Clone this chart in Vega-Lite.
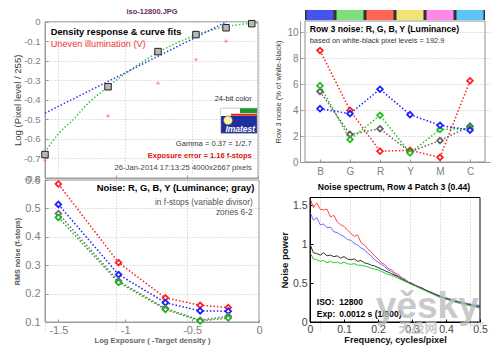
{
"$schema":"https://vega.github.io/schema/vega-lite/v6.json",
"width":500,"height":353,"autosize":{"type":"none"},"padding":0,"background":"white",
"config":{"view":{"stroke":null},"font":"Liberation Sans",
"axis":{"labelFont":"Liberation Sans","titleFont":"Liberation Sans","labelFontSize":10,"labelColor":"#808080","titleColor":"#404040","titleFontWeight":"normal","domainColor":"#999999","tickColor":"#999999","tickSize":-3,"labelPadding":6,"gridColor":"#c4c4c4","gridDash":[1,2],"labelFlush":false,"labelOverlap":false},
"text":{"font":"Liberation Sans"}},
"datasets":{
"one":[{}],
"tl_sq":[{"x":-1.5,"y":-0.68},{"x":-1.056,"y":-0.333},{"x":-0.704,"y":-0.153},{"x":-0.437,"y":-0.066},{"x":-0.225,"y":-0.031},{"x":-0.044,"y":-0.01}],
"tl_red":[{"x":-1.5,"y":-0.71},{"x":-1.056,"y":-0.483},{"x":-0.704,"y":-0.315},{"x":-0.437,"y":-0.194},{"x":-0.225,"y":-0.1}],
"tl_blue":[{"x":-1.5,"y":-0.468},{"x":-0.22,"y":0}],
"tl_green":[{"x":-1.5,"y":-0.668},{"x":-1.4,"y":-0.57},{"x":-1.3,"y":-0.5},{"x":-1.2,"y":-0.42},{"x":-1.1,"y":-0.358},{"x":-1.0,"y":-0.3},{"x":-0.9,"y":-0.248},{"x":-0.8,"y":-0.2},{"x":-0.7,"y":-0.155},{"x":-0.6,"y":-0.118},{"x":-0.5,"y":-0.086},{"x":-0.4,"y":-0.058},{"x":-0.3,"y":-0.037},{"x":-0.2,"y":-0.022},{"x":-0.1,"y":-0.012},{"x":0,"y":-0.006}],
"tr_cells":[{"x":1,"k":"B"},{"x":2,"k":"G"},{"x":3,"k":"R"},{"x":4,"k":"Y"},{"x":5,"k":"M"},{"x":6,"k":"C"}],
"tr":[{"x":1,"y":8.58,"s":"R"},{"x":2,"y":3.98,"s":"R"},{"x":3,"y":0.83,"s":"R"},{"x":4,"y":0.9,"s":"R"},{"x":5,"y":0.36,"s":"R"},{"x":6,"y":6.25,"s":"R"},
{"x":1,"y":5.43,"s":"Y"},{"x":2,"y":2.12,"s":"Y"},{"x":3,"y":2.56,"s":"Y"},{"x":4,"y":0.78,"s":"Y"},{"x":5,"y":1.65,"s":"Y"},{"x":6,"y":2.76,"s":"Y"},
{"x":1,"y":5.87,"s":"G"},{"x":2,"y":1.73,"s":"G"},{"x":3,"y":3.59,"s":"G"},{"x":4,"y":0.7,"s":"G"},{"x":5,"y":2.5,"s":"G"},{"x":6,"y":2.58,"s":"G"},
{"x":1,"y":4.1,"s":"B"},{"x":2,"y":3.72,"s":"B"},{"x":3,"y":5.6,"s":"B"},{"x":4,"y":3.64,"s":"B"},{"x":5,"y":2.82,"s":"B"},{"x":6,"y":2.45,"s":"B"}],
"bl":[{"x":-1.5,"y":0.586,"s":"R"},{"x":-1.05,"y":0.309,"s":"R"},{"x":-0.7,"y":0.185,"s":"R"},{"x":-0.44,"y":0.159,"s":"R"},{"x":-0.23,"y":0.151,"s":"R"},
{"x":-1.5,"y":0.514,"s":"B"},{"x":-1.05,"y":0.267,"s":"B"},{"x":-0.7,"y":0.168,"s":"B"},{"x":-0.44,"y":0.139,"s":"B"},{"x":-0.23,"y":0.138,"s":"B"},
{"x":-1.5,"y":0.482,"s":"Y"},{"x":-1.05,"y":0.244,"s":"Y"},{"x":-0.7,"y":0.148,"s":"Y"},{"x":-0.44,"y":0.106,"s":"Y"},{"x":-0.23,"y":0.12,"s":"Y"},
{"x":-1.5,"y":0.468,"s":"G"},{"x":-1.05,"y":0.239,"s":"G"},{"x":-0.7,"y":0.144,"s":"G"},{"x":-0.44,"y":0.104,"s":"G"},{"x":-0.23,"y":0.114,"s":"G"}],
"br":[
{"x":0,"y":1.59,"s":"R"},{"x":0.01,"y":1.47,"s":"R"},{"x":0.02,"y":1.53,"s":"R"},{"x":0.03,"y":1.45,"s":"R"},{"x":0.04,"y":1.44,"s":"R"},{"x":0.05,"y":1.45,"s":"R"},{"x":0.06,"y":1.35,"s":"R"},{"x":0.07,"y":1.37,"s":"R"},{"x":0.08,"y":1.29,"s":"R"},{"x":0.09,"y":1.25,"s":"R"},{"x":0.1,"y":1.23,"s":"R"},{"x":0.11,"y":1.18,"s":"R"},{"x":0.12,"y":1.14,"s":"R"},{"x":0.13,"y":1.1,"s":"R"},{"x":0.14,"y":1.12,"s":"R"},{"x":0.15,"y":1.02,"s":"R"},{"x":0.16,"y":0.99,"s":"R"},{"x":0.17,"y":0.94,"s":"R"},{"x":0.18,"y":0.9,"s":"R"},{"x":0.19,"y":0.85,"s":"R"},{"x":0.2,"y":0.81,"s":"R"},{"x":0.21,"y":0.76,"s":"R"},{"x":0.22,"y":0.74,"s":"R"},{"x":0.23,"y":0.69,"s":"R"},{"x":0.24,"y":0.67,"s":"R"},{"x":0.25,"y":0.63,"s":"R"},{"x":0.26,"y":0.61,"s":"R"},{"x":0.27,"y":0.57,"s":"R"},{"x":0.28,"y":0.55,"s":"R"},{"x":0.29,"y":0.51,"s":"R"},{"x":0.3,"y":0.5,"s":"R"},{"x":0.31,"y":0.47,"s":"R"},{"x":0.32,"y":0.45,"s":"R"},{"x":0.33,"y":0.44,"s":"R"},{"x":0.34,"y":0.41,"s":"R"},{"x":0.35,"y":0.39,"s":"R"},{"x":0.36,"y":0.38,"s":"R"},{"x":0.37,"y":0.35,"s":"R"},{"x":0.38,"y":0.34,"s":"R"},{"x":0.39,"y":0.32,"s":"R"},{"x":0.4,"y":0.31,"s":"R"},{"x":0.41,"y":0.29,"s":"R"},{"x":0.42,"y":0.28,"s":"R"},{"x":0.43,"y":0.27,"s":"R"},{"x":0.44,"y":0.26,"s":"R"},{"x":0.45,"y":0.24,"s":"R"},{"x":0.46,"y":0.24,"s":"R"},{"x":0.47,"y":0.23,"s":"R"},{"x":0.48,"y":0.22,"s":"R"},{"x":0.49,"y":0.21,"s":"R"},{"x":0.5,"y":0.21,"s":"R"},
{"x":0,"y":1.41,"s":"B"},{"x":0.01,"y":1.31,"s":"B"},{"x":0.02,"y":1.34,"s":"B"},{"x":0.03,"y":1.25,"s":"B"},{"x":0.04,"y":1.26,"s":"B"},{"x":0.05,"y":1.21,"s":"B"},{"x":0.06,"y":1.22,"s":"B"},{"x":0.07,"y":1.16,"s":"B"},{"x":0.08,"y":1.15,"s":"B"},{"x":0.09,"y":1.12,"s":"B"},{"x":0.1,"y":1.1,"s":"B"},{"x":0.11,"y":1.06,"s":"B"},{"x":0.12,"y":1.05,"s":"B"},{"x":0.13,"y":1.01,"s":"B"},{"x":0.14,"y":0.99,"s":"B"},{"x":0.15,"y":0.95,"s":"B"},{"x":0.16,"y":0.93,"s":"B"},{"x":0.17,"y":0.88,"s":"B"},{"x":0.18,"y":0.85,"s":"B"},{"x":0.19,"y":0.8,"s":"B"},{"x":0.2,"y":0.77,"s":"B"},{"x":0.21,"y":0.74,"s":"B"},{"x":0.22,"y":0.71,"s":"B"},{"x":0.23,"y":0.67,"s":"B"},{"x":0.24,"y":0.65,"s":"B"},{"x":0.25,"y":0.61,"s":"B"},{"x":0.26,"y":0.59,"s":"B"},{"x":0.27,"y":0.56,"s":"B"},{"x":0.28,"y":0.54,"s":"B"},{"x":0.29,"y":0.51,"s":"B"},{"x":0.3,"y":0.49,"s":"B"},{"x":0.31,"y":0.47,"s":"B"},{"x":0.32,"y":0.45,"s":"B"},{"x":0.33,"y":0.43,"s":"B"},{"x":0.34,"y":0.41,"s":"B"},{"x":0.35,"y":0.39,"s":"B"},{"x":0.36,"y":0.37,"s":"B"},{"x":0.37,"y":0.36,"s":"B"},{"x":0.38,"y":0.34,"s":"B"},{"x":0.39,"y":0.32,"s":"B"},{"x":0.4,"y":0.31,"s":"B"},{"x":0.41,"y":0.3,"s":"B"},{"x":0.42,"y":0.28,"s":"B"},{"x":0.43,"y":0.27,"s":"B"},{"x":0.44,"y":0.26,"s":"B"},{"x":0.45,"y":0.25,"s":"B"},{"x":0.46,"y":0.24,"s":"B"},{"x":0.47,"y":0.23,"s":"B"},{"x":0.48,"y":0.22,"s":"B"},{"x":0.49,"y":0.22,"s":"B"},{"x":0.5,"y":0.21,"s":"B"},
{"x":0,"y":1.0,"s":"K"},{"x":0.01,"y":0.89,"s":"K"},{"x":0.02,"y":0.88,"s":"K"},{"x":0.03,"y":0.86,"s":"K"},{"x":0.04,"y":0.89,"s":"K"},{"x":0.05,"y":0.85,"s":"K"},{"x":0.06,"y":0.86,"s":"K"},{"x":0.07,"y":0.84,"s":"K"},{"x":0.08,"y":0.85,"s":"K"},{"x":0.09,"y":0.82,"s":"K"},{"x":0.1,"y":0.84,"s":"K"},{"x":0.11,"y":0.81,"s":"K"},{"x":0.12,"y":0.8,"s":"K"},{"x":0.13,"y":0.81,"s":"K"},{"x":0.14,"y":0.78,"s":"K"},{"x":0.15,"y":0.79,"s":"K"},{"x":0.16,"y":0.76,"s":"K"},{"x":0.17,"y":0.75,"s":"K"},{"x":0.18,"y":0.73,"s":"K"},{"x":0.19,"y":0.72,"s":"K"},{"x":0.2,"y":0.7,"s":"K"},{"x":0.21,"y":0.68,"s":"K"},{"x":0.22,"y":0.66,"s":"K"},{"x":0.23,"y":0.64,"s":"K"},{"x":0.24,"y":0.62,"s":"K"},{"x":0.25,"y":0.6,"s":"K"},{"x":0.26,"y":0.58,"s":"K"},{"x":0.27,"y":0.55,"s":"K"},{"x":0.28,"y":0.53,"s":"K"},{"x":0.29,"y":0.51,"s":"K"},{"x":0.3,"y":0.49,"s":"K"},{"x":0.31,"y":0.47,"s":"K"},{"x":0.32,"y":0.45,"s":"K"},{"x":0.33,"y":0.43,"s":"K"},{"x":0.34,"y":0.41,"s":"K"},{"x":0.35,"y":0.39,"s":"K"},{"x":0.36,"y":0.37,"s":"K"},{"x":0.37,"y":0.35,"s":"K"},{"x":0.38,"y":0.33,"s":"K"},{"x":0.39,"y":0.32,"s":"K"},{"x":0.4,"y":0.3,"s":"K"},{"x":0.41,"y":0.29,"s":"K"},{"x":0.42,"y":0.27,"s":"K"},{"x":0.43,"y":0.26,"s":"K"},{"x":0.44,"y":0.25,"s":"K"},{"x":0.45,"y":0.24,"s":"K"},{"x":0.46,"y":0.23,"s":"K"},{"x":0.47,"y":0.22,"s":"K"},{"x":0.48,"y":0.21,"s":"K"},{"x":0.49,"y":0.2,"s":"K"},{"x":0.5,"y":0.19,"s":"K"},
{"x":0,"y":0.89,"s":"G"},{"x":0.01,"y":0.81,"s":"G"},{"x":0.02,"y":0.8,"s":"G"},{"x":0.03,"y":0.78,"s":"G"},{"x":0.04,"y":0.79,"s":"G"},{"x":0.05,"y":0.76,"s":"G"},{"x":0.06,"y":0.78,"s":"G"},{"x":0.07,"y":0.76,"s":"G"},{"x":0.08,"y":0.77,"s":"G"},{"x":0.09,"y":0.75,"s":"G"},{"x":0.1,"y":0.77,"s":"G"},{"x":0.11,"y":0.75,"s":"G"},{"x":0.12,"y":0.74,"s":"G"},{"x":0.13,"y":0.75,"s":"G"},{"x":0.14,"y":0.73,"s":"G"},{"x":0.15,"y":0.73,"s":"G"},{"x":0.16,"y":0.72,"s":"G"},{"x":0.17,"y":0.71,"s":"G"},{"x":0.18,"y":0.69,"s":"G"},{"x":0.19,"y":0.68,"s":"G"},{"x":0.2,"y":0.67,"s":"G"},{"x":0.21,"y":0.65,"s":"G"},{"x":0.22,"y":0.63,"s":"G"},{"x":0.23,"y":0.61,"s":"G"},{"x":0.24,"y":0.6,"s":"G"},{"x":0.25,"y":0.58,"s":"G"},{"x":0.26,"y":0.56,"s":"G"},{"x":0.27,"y":0.54,"s":"G"},{"x":0.28,"y":0.52,"s":"G"},{"x":0.29,"y":0.5,"s":"G"},{"x":0.3,"y":0.48,"s":"G"},{"x":0.31,"y":0.46,"s":"G"},{"x":0.32,"y":0.44,"s":"G"},{"x":0.33,"y":0.42,"s":"G"},{"x":0.34,"y":0.4,"s":"G"},{"x":0.35,"y":0.38,"s":"G"},{"x":0.36,"y":0.36,"s":"G"},{"x":0.37,"y":0.34,"s":"G"},{"x":0.38,"y":0.32,"s":"G"},{"x":0.39,"y":0.31,"s":"G"},{"x":0.4,"y":0.29,"s":"G"},{"x":0.41,"y":0.28,"s":"G"},{"x":0.42,"y":0.27,"s":"G"},{"x":0.43,"y":0.25,"s":"G"},{"x":0.44,"y":0.24,"s":"G"},{"x":0.45,"y":0.23,"s":"G"},{"x":0.46,"y":0.22,"s":"G"},{"x":0.47,"y":0.21,"s":"G"},{"x":0.48,"y":0.2,"s":"G"},{"x":0.49,"y":0.19,"s":"G"},{"x":0.5,"y":0.18,"s":"G"}]
},
"layer":[
{"layer":[
{"data":{"name":"tl_green"},"mark":{"type":"line","stroke":"#28d028","strokeWidth":1.5,"strokeDash":[1.5,2],"interpolate":"monotone"},"encoding":{
"x":{"field":"x","type":"quantitative","scale":{"domain":[-1.5,0],"range":[45,258],"nice":false,"zero":false},"axis":{"orient":"bottom","offset":-175,"values":[-1.5,-1,-0.5,0],"labels":false,"title":null,"grid":true}},
"y":{"field":"y","type":"quantitative","scale":{"domain":[-0.8,0],"range":[178,21.7],"nice":false,"zero":false},"axis":{"orient":"left","offset":-45,"values":[0,-0.1,-0.2,-0.3,-0.4,-0.5,-0.6,-0.7,-0.8],"format":"~r","labelExpr":"replace(datum.label,'\u2212','-')","labelFontSize":9.5,"labelPadding":8,"title":"Log (Pixel level / 255)","titleFontSize":9.5,"titlePadding":1,"grid":true}}}},
{"data":{"name":"one"},"mark":{"type":"rect","fill":"white","fillOpacity":0,"stroke":"#a0a0a0","strokeWidth":1},"encoding":{"x":{"datum":-1.5,"type":"quantitative"},"x2":{"datum":0},"y":{"datum":-0.8,"type":"quantitative"},"y2":{"datum":0}}},
{"data":{"name":"tl_blue"},"mark":{"type":"line","stroke":"#3535ff","strokeWidth":1.5,"strokeDash":[1.5,2]},"encoding":{"x":{"field":"x","type":"quantitative"},"y":{"field":"y","type":"quantitative"}}},
{"data":{"name":"tl_red"},"mark":{"type":"point","shape":"cross","size":12,"filled":true,"color":"#ff7070"},"encoding":{"x":{"field":"x","type":"quantitative"},"y":{"field":"y","type":"quantitative"}}},
{"data":{"name":"tl_sq"},"mark":{"type":"point","shape":"square","size":42,"filled":true,"fill":"#b8b8b8","stroke":"#222222","strokeWidth":1,"opacity":1},"encoding":{"x":{"field":"x","type":"quantitative"},"y":{"field":"y","type":"quantitative"}}},
{"data":{"name":"one"},"mark":{"type":"text","text":"iso-12800.JPG","align":"center","baseline":"middle","fontSize":7.5,"fontWeight":"bold","color":"#6a2a6a"},"encoding":{"x":{"datum":-0.746,"type":"quantitative"},"y":{"datum":0.05,"type":"quantitative"}}},
{"data":{"name":"one"},"mark":{"type":"text","text":"Density response & curve fits","align":"left","baseline":"middle","fontSize":9.3,"fontWeight":"bold","color":"#000000"},"encoding":{"x":{"datum":-1.46,"type":"quantitative"},"y":{"datum":-0.053,"type":"quantitative"}}},
{"data":{"name":"one"},"mark":{"type":"text","text":"Uneven illumination (V)","align":"left","baseline":"middle","fontSize":9.2,"color":"#ee3333"},"encoding":{"x":{"datum":-1.46,"type":"quantitative"},"y":{"datum":-0.114,"type":"quantitative"}}},
{"data":{"name":"one"},"mark":{"type":"text","text":"24-bit color","align":"right","baseline":"middle","fontSize":7.5,"color":"#333333"},"encoding":{"x":{"datum":-0.044,"type":"quantitative"},"y":{"datum":-0.396,"type":"quantitative"}}},
{"data":{"name":"one"},"mark":{"type":"rect","fill":"#1f2f9f","stroke":"#888888","strokeWidth":0.5},"encoding":{"x":{"datum":-0.261,"type":"quantitative"},"x2":{"datum":-0.007},"y":{"datum":-0.571,"type":"quantitative"},"y2":{"datum":-0.443}}},
{"data":{"name":"one"},"mark":{"type":"rect","fill":"#ffffff"},"encoding":{"x":{"datum":-0.261,"type":"quantitative"},"x2":{"datum":-0.007},"y":{"datum":-0.483,"type":"quantitative"},"y2":{"datum":-0.443}}},
{"data":{"name":"one"},"mark":{"type":"rect","fill":"#1a9a2a"},"encoding":{"x":{"datum":-0.127,"type":"quantitative"},"x2":{"datum":-0.007},"y":{"datum":-0.468,"type":"quantitative"},"y2":{"datum":-0.443}}},
{"data":{"name":"one"},"mark":{"type":"rect","fill":"#dd2222"},"encoding":{"x":{"datum":-0.19,"type":"quantitative"},"x2":{"datum":-0.007},"y":{"datum":-0.481,"type":"quantitative"},"y2":{"datum":-0.471}}},
{"data":{"name":"one"},"mark":{"type":"point","shape":"circle","size":80,"filled":true,"fill":"#fff2a0","stroke":"#555555","strokeWidth":0.5,"opacity":1},"encoding":{"x":{"datum":-0.211,"type":"quantitative"},"y":{"datum":-0.505,"type":"quantitative"}}},
{"data":{"name":"one"},"mark":{"type":"text","text":"Imatest","align":"center","baseline":"middle","fontSize":8.5,"fontWeight":"bold","fontStyle":"italic","color":"#ffffff"},"encoding":{"x":{"datum":-0.125,"type":"quantitative"},"y":{"datum":-0.547,"type":"quantitative"}}},
{"data":{"name":"one"},"mark":{"type":"text","text":"Gamma = 0.37 = 1/2.7","align":"right","baseline":"middle","fontSize":7.6,"color":"#333333"},"encoding":{"x":{"datum":-0.044,"type":"quantitative"},"y":{"datum":-0.627,"type":"quantitative"}}},
{"data":{"name":"one"},"mark":{"type":"text","text":"Exposure error = 1.16 f-stops","align":"right","baseline":"middle","fontSize":7.5,"fontWeight":"bold","color":"#dd1111"},"encoding":{"x":{"datum":-0.044,"type":"quantitative"},"y":{"datum":-0.687,"type":"quantitative"}}},
{"data":{"name":"one"},"mark":{"type":"text","text":"26-Jan-2014 17:13:25   4000x2667 pixels","align":"right","baseline":"middle","fontSize":7.7,"color":"#444444"},"encoding":{"x":{"datum":-0.044,"type":"quantitative"},"y":{"datum":-0.749,"type":"quantitative"}}}
]},
{"layer":[
{"data":{"name":"tr"},"mark":{"type":"line","strokeWidth":1.5,"strokeDash":[1.5,2]},"encoding":{
"x":{"field":"x","type":"quantitative","scale":{"domain":[0.5,6.5],"range":[300,490],"nice":false,"zero":false},"axis":{"orient":"bottom","offset":-191,"values":[1,2,3,4,5,6],"labelExpr":"['','B','G','R','Y','M','C'][datum.value]","title":null,"grid":true,"labelFontSize":10,"labelPadding":7}},
"y":{"field":"y","type":"quantitative","scale":{"domain":[0,10.85],"range":[162,21],"nice":false,"zero":false},"axis":{"orient":"left","offset":-300,"values":[0,2,4,6,8,10],"format":"~r","title":"Row 3 noise (% of white-black)","titleFontSize":7.5,"titlePadding":4,"grid":true,"labelFontSize":10,"labelPadding":5}},
"stroke":{"field":"s","type":"nominal","scale":{"domain":["R","G","B","Y"],"range":["#ff2020","#20c020","#2020ff","#606060"]},"legend":null}}},
{"data":{"name":"one"},"mark":{"type":"rect","fill":"white","fillOpacity":0,"stroke":"#909090","strokeWidth":1},"encoding":{"x":{"datum":0.5,"type":"quantitative"},"x2":{"datum":6.5},"y":{"datum":0,"type":"quantitative"},"y2":{"datum":10.85}}},
{"data":{"name":"one"},"mark":{"type":"rect","fill":"#333333"},"encoding":{"x":{"datum":0.5,"type":"quantitative"},"x2":{"datum":6.5},"y":{"datum":10.92,"type":"quantitative"},"y2":{"datum":11.7}}},
{"data":{"name":"tr_cells"},"mark":{"type":"bar","width":27},"encoding":{"x":{"field":"x","type":"quantitative"},"y":{"datum":10.92,"type":"quantitative"},"y2":{"datum":11.7},"fill":{"field":"k","type":"nominal","scale":{"domain":["B","G","R","Y","M","C"],"range":["#4455ee","#7de07d","#ff6655","#f2e477","#ff88e8","#5cc4f8"]},"legend":null}}},
{"data":{"name":"tr"},"mark":{"type":"point","shape":"diamond","size":32,"filled":true,"fill":"white","strokeWidth":1.8,"opacity":1},"encoding":{"x":{"field":"x","type":"quantitative"},"y":{"field":"y","type":"quantitative"},"stroke":{"field":"s","type":"nominal","legend":null}}},
{"data":{"name":"one"},"mark":{"type":"text","text":"Row 3 noise: R, G, B, Y (Luminance)","align":"left","baseline":"middle","fontSize":8.7,"fontWeight":"bold","color":"#000000"},"encoding":{"x":{"datum":0.658,"type":"quantitative"},"y":{"datum":10.21,"type":"quantitative"}}},
{"data":{"name":"one"},"mark":{"type":"text","text":"based on white-black pixel levels = 192.9","align":"left","baseline":"middle","fontSize":7.4,"color":"#333333"},"encoding":{"x":{"datum":0.658,"type":"quantitative"},"y":{"datum":9.28,"type":"quantitative"}}}
]},
{"layer":[
{"data":{"name":"bl"},"mark":{"type":"line","strokeWidth":1.5,"strokeDash":[1.5,2]},"encoding":{
"x":{"field":"x","type":"quantitative","scale":{"domain":[-1.6,0],"range":[45,259],"nice":false,"zero":false},"axis":{"orient":"bottom","offset":-31,"values":[-1.5,-1,-0.5,0],"format":"~r","labelExpr":"replace(datum.label,'\u2212','-')","labelFontSize":11,"labelPadding":5,"title":"Log Exposure ( -Target density )","titleFontSize":7.6,"titleFontWeight":"bold","titleColor":"#666666","titlePadding":1,"grid":true}},
"y":{"field":"y","type":"quantitative","scale":{"domain":[0.1,0.6],"range":[322,180],"nice":false,"zero":false},"axis":{"orient":"left","offset":-45,"values":[0.1,0.2,0.3,0.4,0.5,0.6],"format":"~r","labelFontSize":11,"labelPadding":8,"title":"RMS noise (f-stops)","titleFontSize":7.2,"titleFontWeight":"bold","titleColor":"#555555","titlePadding":3,"grid":true}},
"stroke":{"field":"s","type":"nominal","scale":{"domain":["R","B","Y","G"],"range":["#ff2020","#2020ff","#707070","#20b020"]},"legend":null}}},
{"data":{"name":"one"},"mark":{"type":"rect","fill":"white","fillOpacity":0,"stroke":"#a0a0a0","strokeWidth":1},"encoding":{"x":{"datum":-1.6,"type":"quantitative"},"x2":{"datum":0},"y":{"datum":0.1,"type":"quantitative"},"y2":{"datum":0.6}}},
{"data":{"name":"bl"},"mark":{"type":"point","shape":"diamond","size":32,"filled":true,"fill":"white","strokeWidth":1.8,"opacity":1},"encoding":{"x":{"field":"x","type":"quantitative"},"y":{"field":"y","type":"quantitative"},"stroke":{"field":"s","type":"nominal","legend":null}}},
{"data":{"name":"one"},"mark":{"type":"text","text":"Noise: R, G, B, Y (Luminance; gray)","align":"left","baseline":"middle","fontSize":9.4,"fontWeight":"bold","color":"#000000"},"encoding":{"x":{"datum":-1.213,"type":"quantitative"},"y":{"datum":0.571,"type":"quantitative"}}},
{"data":{"name":"one"},"mark":{"type":"text","text":"in f-stops (variable divisor)","align":"right","baseline":"middle","fontSize":8.4,"color":"#555555"},"encoding":{"x":{"datum":-0.047,"type":"quantitative"},"y":{"datum":0.521,"type":"quantitative"}}},
{"data":{"name":"one"},"mark":{"type":"text","text":"zones 6-2","align":"right","baseline":"middle","fontSize":8.4,"color":"#555555"},"encoding":{"x":{"datum":-0.047,"type":"quantitative"},"y":{"datum":0.486,"type":"quantitative"}}}
]},
{"layer":[
{"data":{"name":"br"},"mark":{"type":"line","strokeWidth":1},"encoding":{
"x":{"field":"x","type":"quantitative","scale":{"domain":[0,0.5],"range":[310,480],"nice":false,"zero":false},"axis":{"orient":"bottom","offset":-31,"values":[0,0.1,0.2,0.3,0.4,0.5],"format":"~r","grid":false,"labelFontSize":10.5,"labelPadding":5,"title":"Frequency, cycles/pixel","titleFontSize":9.2,"titleFontWeight":"bold","titleColor":"#111111","labelColor":"#444444","domainColor":"#000000","tickColor":"#000000","titlePadding":1}},
"y":{"field":"y","type":"quantitative","scale":{"domain":[0,1.6],"range":[322,197.5],"nice":false,"zero":false},"axis":{"orient":"left","offset":-310,"values":[0,0.5,1,1.5],"format":"~r","grid":false,"labelFontSize":10.5,"labelPadding":6,"title":"Noise power","titleFontSize":9.5,"titleFontWeight":"bold","titleColor":"#111111","labelColor":"#444444","domainColor":"#000000","tickColor":"#000000","titlePadding":3}},
"stroke":{"field":"s","type":"nominal","scale":{"domain":["R","B","K","G"],"range":["#ff4a4a","#6a6aff","#303030","#22d022"]},"legend":null}}},
{"data":{"name":"one"},"mark":{"type":"rect","fill":"white","fillOpacity":0,"stroke":"#000000","strokeWidth":1},"encoding":{"x":{"datum":0,"type":"quantitative"},"x2":{"datum":0.5},"y":{"datum":0,"type":"quantitative"},"y2":{"datum":1.6}}},
{"data":{"name":"one"},"mark":{"type":"text","text":"Noise spectrum, Row 4 Patch 3 (0.44)","align":"center","baseline":"middle","fontSize":8.6,"fontWeight":"bold","color":"#000000"},"encoding":{"x":{"datum":0.247,"type":"quantitative"},"y":{"datum":1.735,"type":"quantitative"}}},
{"data":{"name":"one"},"mark":{"type":"text","text":"ISO:","align":"left","baseline":"middle","fontSize":8.5,"fontWeight":"bold","color":"#000000"},"encoding":{"x":{"datum":0.02,"type":"quantitative"},"y":{"datum":0.253,"type":"quantitative"}}},
{"data":{"name":"one"},"mark":{"type":"text","text":"12800","align":"left","baseline":"middle","fontSize":8.5,"fontWeight":"bold","color":"#000000"},"encoding":{"x":{"datum":0.086,"type":"quantitative"},"y":{"datum":0.253,"type":"quantitative"}}},
{"data":{"name":"one"},"mark":{"type":"text","text":"Exp:","align":"left","baseline":"middle","fontSize":8.5,"fontWeight":"bold","color":"#000000"},"encoding":{"x":{"datum":0.02,"type":"quantitative"},"y":{"datum":0.103,"type":"quantitative"}}},
{"data":{"name":"one"},"mark":{"type":"text","text":"0.0012 s  (1/800)","align":"left","baseline":"middle","fontSize":8.5,"fontWeight":"bold","color":"#000000"},"encoding":{"x":{"datum":0.086,"type":"quantitative"},"y":{"datum":0.103,"type":"quantitative"}}},
{"data":{"name":"one"},"mark":{"type":"text","text":"yěsky","align":"center","baseline":"middle","fontSize":37,"fontWeight":"bold","color":"#bdbdbd","opacity":0.8},"encoding":{"x":{"datum":0.345,"type":"quantitative"},"y":{"datum":0.19,"type":"quantitative"}}},
{"data":{"name":"one"},"mark":{"type":"text","text":"天极网","align":"center","baseline":"middle","fontSize":13,"font":"Noto Sans CJK SC","fontWeight":"bold","color":"#bdbdbd","opacity":0.8},"encoding":{"x":{"datum":0.318,"type":"quantitative"},"y":{"datum":-0.077,"type":"quantitative"}}},
{"data":{"name":"one"},"mark":{"type":"text","text":".com","align":"left","baseline":"middle","fontSize":7,"color":"#bdbdbd"},"encoding":{"x":{"datum":0.465,"type":"quantitative"},"y":{"datum":-0.03,"type":"quantitative"}}}
]}
],
"resolve":{"scale":{"x":"independent","y":"independent","stroke":"independent","fill":"independent"},"axis":{"x":"independent","y":"independent"}}
}
